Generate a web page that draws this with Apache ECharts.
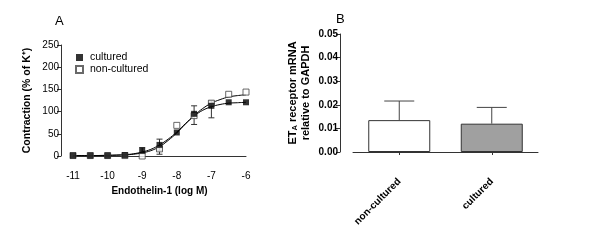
<!DOCTYPE html>
<html>
<head>
<meta charset="utf-8">
<script src="https://cdn.jsdelivr.net/npm/echarts@6/dist/echarts.min.js"></script>
<style>
  html, body { margin: 0; padding: 0; background: #fff; }
  #chart { width: 600px; height: 241px; }
</style>
</head>
<body>
<div id="chart"></div>
<script>
// ---- panel A : concentration-response ----
var logConc = [-11, -10.5, -10, -9.5, -9, -8.5, -8, -7.5, -7, -6.5, -6];
var culturedMean = [1, 1, 1, 2, 12, 25, 53, 95, 113, 121, 121];
var culturedLo   = [1, 1, 1, 2, 5, 12, 53, 71, 86, 121, 121];
var culturedHi   = [1, 1, 1, 2, 19, 38, 53, 113, 118, 121, 121];
var nonMean = [1, 1, 1, 1, 0, 16, 69, 91, 119, 139, 144];
var nonLo   = [1, 1, 1, 1, 0, 4, 69, 91, 119, 139, 144];
var nonHi   = [1, 1, 1, 1, 0, 16, 69, 91, 124, 139, 144];

// fitted curves
var curveX   = [-11, -10.5, -10, -9.5, -9.25, -9, -8.75, -8.5, -8.25, -8, -7.75, -7.5, -7.25, -7, -6.75, -6.5, -6.25, -6];
var curveCul = [1, 1, 1.5, 3, 5, 9, 15, 25, 38, 54, 73, 90, 103, 111, 116, 119, 120, 121];
var curveNon = [1, 1, 1.5, 2.5, 4, 7, 12, 21, 35, 52, 72, 91, 107, 119, 127, 133, 136, 138];

// ---- panel B : mRNA ----
var groups = ['non-cultured', 'cultured'];
var mrnaMean = [0.0135, 0.012];
var mrnaErr  = [0.0216, 0.0189];
var barColors = ['#ffffff', '#a0a0a0'];

var FONT = 'Liberation Sans, Arial, sans-serif';

function pairs(xs, ys){
	var out = [];
	for (var i=0; i<xs.length; i++){ out.push([xs[i], ys[i]]); }
	return out;
}
function errData(xs, lo, hi){
	var out = [];
	for (var i=0; i<xs.length; i++){
		if (hi[i] - lo[i] > 0) out.push([xs[i], lo[i], hi[i]]);
	}
	return out;
}
function errRender(capHalf){
	return function(params, api){
		var a = api.coord([api.value(0), api.value(1)]);
		var b = api.coord([api.value(0), api.value(2)]);
		var st = {stroke: '#333', lineWidth: 1};
		return {type: 'group', children: [
			{type: 'line', shape: {x1: a[0], y1: a[1], x2: b[0], y2: b[1]}, style: st},
			{type: 'line', shape: {x1: a[0]-capHalf, y1: a[1], x2: a[0]+capHalf, y2: a[1]}, style: st},
			{type: 'line', shape: {x1: b[0]-capHalf, y1: b[1], x2: b[0]+capHalf, y2: b[1]}, style: st}
		]};
	};
}
function barErrRender(params, api){
	var a = api.coord([api.value(0), api.value(1)]);
	var b = api.coord([api.value(0), api.value(2)]);
	var st = {stroke: '#444', lineWidth: 1};
	return {type: 'group', children: [
		{type: 'line', shape: {x1: a[0], y1: a[1], x2: b[0], y2: b[1]}, style: st},
		{type: 'line', shape: {x1: b[0]-15, y1: b[1], x2: b[0]+15, y2: b[1]}, style: st}
	]};
}

var chart = echarts.init(document.getElementById('chart'), null, {renderer: 'canvas'});
var axisLine = {show: true, lineStyle: {color: '#333', width: 1}};
var option = {
	backgroundColor: '#fff',
	animation: false,
	textStyle: {fontFamily: FONT},
	title: [
		{text: 'A', left: 50, top: 10, textStyle: {fontSize: 13, fontWeight: 'normal', color: '#000', fontFamily: FONT}},
		{text: 'B', left: 331, top: 8, textStyle: {fontSize: 13, fontWeight: 'normal', color: '#000', fontFamily: FONT}}
	],
	legend: {
		orient: 'vertical', left: 70, top: 47, itemWidth: 7, itemHeight: 7, itemGap: 1,
		data: ['cultured', 'non-cultured'],
		textStyle: {fontSize: 10.5, color: '#000', fontFamily: FONT, padding: [0, 0, 0, 2]}
	},
	grid: [
		{left: 73, top: 45, width: 173, height: 111},
		{left: 353, top: 34, width: 185, height: 118}
	],
	xAxis: [
		{gridIndex: 0, type: 'value', min: -11, max: -6, interval: 1, offset: 11,
		 axisLine: axisLine, axisTick: {show: false}, splitLine: {show: false},
		 axisLabel: {fontSize: 10, color: '#000', margin: 4},
		 name: 'Endothelin-1 (log M)', nameLocation: 'middle', nameGap: 19,
		 nameTextStyle: {fontSize: 10, fontWeight: 'bold', color: '#000'}},
		{gridIndex: 1, type: 'category', data: groups, offset: 13,
		 axisLine: axisLine, axisTick: {show: true, alignWithLabel: true, length: 3, lineStyle: {color: '#333'}},
		 axisLabel: {rotate: 45, fontSize: 10, fontWeight: 'bold', color: '#000', margin: 15}}
	],
	yAxis: [
		{gridIndex: 0, type: 'value', min: 0, max: 250, interval: 50, offset: 12,
		 axisLine: axisLine, axisTick: {show: true, length: 4, lineStyle: {color: '#333'}}, splitLine: {show: false},
		 axisLabel: {fontSize: 10, color: '#000', margin: 2},
		 name: 'Contraction (% of K\u207A)', nameLocation: 'middle', nameGap: 28, nameRotate: 90,
		 nameTextStyle: {fontSize: 10.5, fontWeight: 'bold', color: '#000'}},
		{gridIndex: 1, type: 'value', min: 0, max: 0.05, interval: 0.01, offset: 13,
		 axisLine: axisLine, axisTick: {show: true, length: 4, lineStyle: {color: '#333'}}, splitLine: {show: false},
		 axisLabel: {fontSize: 10, fontWeight: 'bold', color: '#000', margin: 2,
		             formatter: function(v){ return v.toFixed(2); }},
		 name: '{b|ET}{s|A}{b| receptor mRNA}\n{b|relative to GAPDH}', nameLocation: 'middle', nameGap: 28, nameRotate: 90,
		 nameTextStyle: {fontSize: 11, fontWeight: 'bold', color: '#000', lineHeight: 13,
		   rich: {b: {fontSize: 11, fontWeight: 'bold', color: '#000', fontFamily: FONT, lineHeight: 13},
		          s: {fontSize: 7.5, fontWeight: 'bold', color: '#000', fontFamily: FONT, verticalAlign: 'bottom', padding: [4, 0, 0, 0]}}}}
	],
	series: [
		{type: 'line', xAxisIndex: 0, yAxisIndex: 0, data: pairs(curveX, curveCul), smooth: 0.4,
		 showSymbol: false, lineStyle: {color: '#000', width: 1}, z: 2},
		{type: 'line', xAxisIndex: 0, yAxisIndex: 0, data: pairs(curveX, curveNon), smooth: 0.4,
		 showSymbol: false, lineStyle: {color: '#000', width: 1}, z: 2},
		{type: 'custom', xAxisIndex: 0, yAxisIndex: 0, renderItem: errRender(3),
		 data: errData(logConc, culturedLo, culturedHi), z: 3},
		{type: 'custom', xAxisIndex: 0, yAxisIndex: 0, renderItem: errRender(3),
		 data: errData(logConc, nonLo, nonHi), z: 3},
		{name: 'non-cultured', type: 'scatter', xAxisIndex: 0, yAxisIndex: 0, symbol: 'rect', symbolSize: 6,
		 data: pairs(logConc, nonMean), itemStyle: {color: '#fff', borderColor: '#444', borderWidth: 1}, z: 4},
		{name: 'cultured', type: 'scatter', xAxisIndex: 0, yAxisIndex: 0, symbol: 'rect', symbolSize: 6,
		 data: pairs(logConc, culturedMean), itemStyle: {color: '#000'}, z: 5},
		{type: 'bar', xAxisIndex: 1, yAxisIndex: 1, barWidth: 62,
		 data: mrnaMean.map(function(v, i){
			return {value: v, itemStyle: {color: barColors[i], borderColor: '#333', borderWidth: 1}};
		 }), z: 2},
		{type: 'custom', xAxisIndex: 1, yAxisIndex: 1, renderItem: barErrRender,
		 data: mrnaMean.map(function(v, i){ return [i, v, mrnaErr[i]]; }), z: 3}
	]
};
chart.setOption(option);
</script>
</body>
</html>
